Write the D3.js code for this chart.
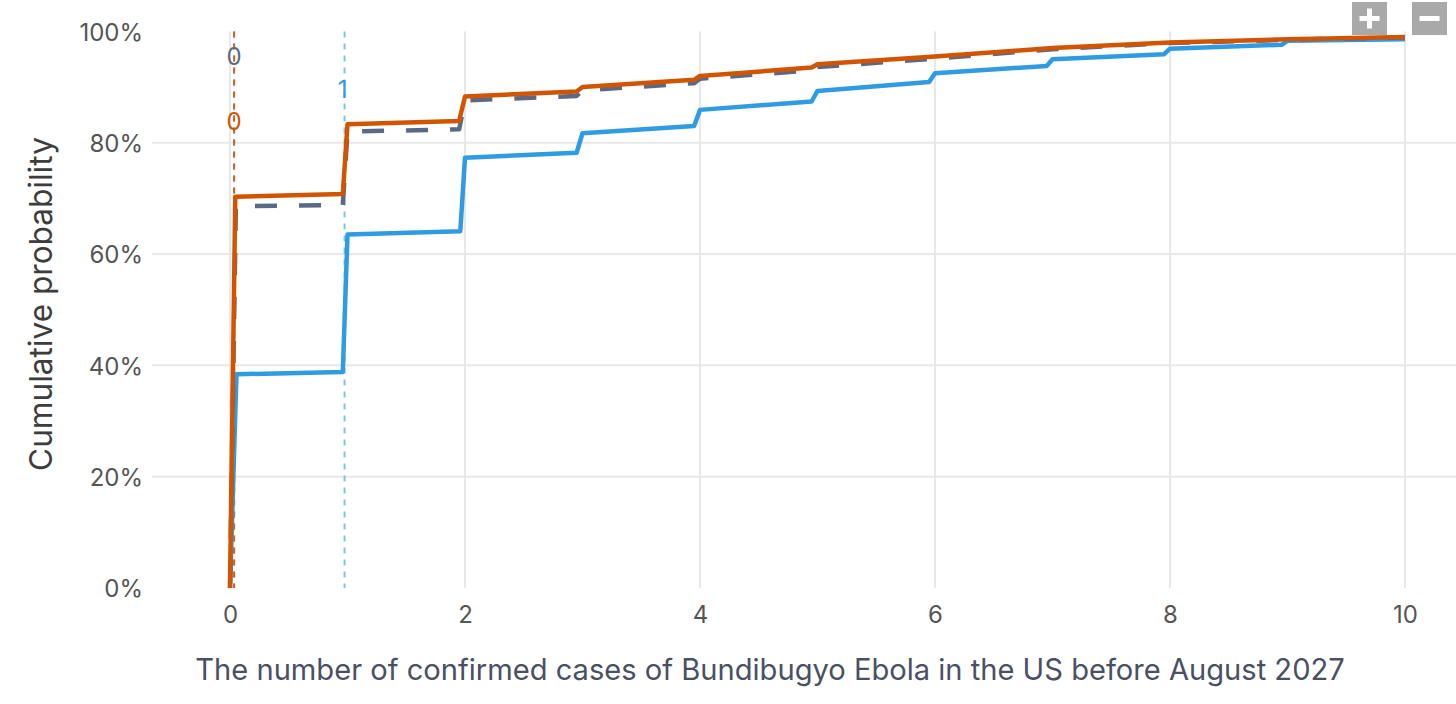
<!DOCTYPE html>
<html><head><meta charset="utf-8">
<script src="https://cdn.jsdelivr.net/npm/d3@7"></script>
<style>
body{margin:0;background:#fff;}
svg{display:block;font-family:Inter,"Open Sans",sans-serif;}
</style>
</head><body>
<svg id="chart" width="1456" height="704"></svg>
<script>
// ---- data ----
const xTicks = [0, 2, 4, 6, 8, 10];
const yTicks = [0, 20, 40, 60, 80, 100];
const yGrid = [20, 40, 60, 80];

// blue series (cumulative %, step-like CDF)
const blueX = [0.0, 0.055, 0.96, 1.0, 1.96, 2.0, 2.95, 3.0, 3.95, 4.0, 4.95, 5.0, 5.95, 6.0, 6.95, 7.0, 7.95, 8.0, 8.95, 9.0, 10.0];
const blueP = [0, 38.4, 38.8, 63.5, 64.1, 77.3, 78.2, 81.7, 83.0, 85.9, 87.4, 89.3, 90.9, 92.5, 93.8, 95.0, 95.9, 96.9, 97.6, 98.3, 98.6];

// grey dashed series
const greyX = [0.0, 0.05, 0.96, 1.0, 1.95, 2.0, 2.95, 3.0, 3.95, 4.0, 4.95, 5.0, 6.0, 7.0, 8.0, 9.0, 10.0];
const greyP = [0, 68.6, 68.8, 82.0, 82.4, 87.6, 88.4, 89.4, 90.7, 91.5, 93.0, 93.6, 95.1, 96.8, 97.9, 98.5, 98.9];

// orange series
const orangeX = [0.0, 0.045, 0.96, 1.0, 1.95, 2.0, 2.95, 3.0, 3.95, 4.0, 4.95, 5.0, 6.0, 7.0, 8.0, 9.0, 10.0];
const orangeP = [0, 70.3, 70.8, 83.3, 83.9, 88.3, 89.2, 90.0, 91.3, 92.0, 93.5, 94.1, 95.5, 97.0, 98.0, 98.6, 99.0];

// medians (vertical markers) and their labels
const medianNames = ["grey", "orange", "blue"];
const medianX = [0.035, 0.035, 0.975];
const medianLabels = ["0", "0", "1"];

const colors = {blue: "#2f9be3", grey: "#5a6a84", orange: "#d35400"};
const xTitle = "The number of confirmed cases of Bundibugyo Ebola in the US before August 2027";
const yTitle = "Cumulative probability";

// ---- layout ----
const W = 1456, H = 704;
const svg = d3.select("#chart");
const x = d3.scaleLinear().domain([0, 10]).range([230, 1405]);
const y = d3.scaleLinear().domain([0, 100]).range([588, 31.4]);
const gridLeft = 152, gridRight = W;

// grid
const g = svg.append("g");
g.selectAll("line.hg").data(yGrid).join("line")
  .attr("x1", gridLeft).attr("x2", gridRight)
  .attr("y1", d => y(d)).attr("y2", d => y(d))
  .attr("stroke", "#e8e8e8").attr("stroke-width", 2);
g.selectAll("line.vg").data(xTicks).join("line")
  .attr("x1", d => x(d)).attr("x2", d => x(d))
  .attr("y1", y(100)).attr("y2", y(0))
  .attr("stroke", "#e8e8e8").attr("stroke-width", 2);

// axes (labels only)
const xAxis = d3.axisBottom(x).tickValues(xTicks).tickSize(0).tickPadding(0).tickFormat(d3.format("d"));
const xa = svg.append("g").attr("transform", `translate(0,${y(0)})`).call(xAxis);
xa.select(".domain").remove();
xa.selectAll("text").attr("font-size", 24).attr("fill", "#555")
  .attr("font-family", "Inter,'Open Sans',sans-serif")
  .attr("dy", null).attr("y", 35);

const yAxis = d3.axisLeft(y).tickValues(yTicks).tickSize(0).tickPadding(0).tickFormat(d => d + "%");
const ya = svg.append("g").attr("transform", `translate(143,0)`).call(yAxis);
ya.select(".domain").remove();
ya.selectAll("text").attr("font-size", 24).attr("fill", "#555")
  .attr("font-family", "Inter,'Open Sans',sans-serif")
  .attr("x", 0).attr("dy", "0.36em");

// titles, fitted to measured widths
const xt = svg.append("text").attr("x", 770).attr("y", 680).attr("text-anchor", "middle")
  .attr("fill", "#4a5064").attr("font-size", 28).text(xTitle);
let wx = xt.node().getComputedTextLength();
xt.attr("font-size", 28 * 1150 / wx);

const yt = svg.append("text").attr("transform", "translate(52,304) rotate(-90)")
  .attr("text-anchor", "middle").attr("fill", "#3d3d3d").attr("font-size", 30).text(yTitle);
let wy = yt.node().getComputedTextLength();
yt.attr("font-size", 30 * 334 / wy);

// median lines
const medG = svg.append("g");
medianNames.forEach((n, i) => {
  medG.append("line")
    .attr("x1", x(medianX[i])).attr("x2", x(medianX[i]))
    .attr("y1", y(100)).attr("y2", y(0))
    .attr("stroke", colors[n]).attr("stroke-opacity", n === "blue" ? 0.6 : 0.7)
    .attr("stroke-width", 2).attr("stroke-dasharray", "6,6");
});

// series lines
const line = d3.line().x(d => x(d[0])).y(d => y(d[1])).curve(d3.curveLinear);
const series = [
  {name: "blue", xs: blueX, ps: blueP, dash: null},
  {name: "grey", xs: greyX, ps: greyP, dash: "22,22"},
  {name: "orange", xs: orangeX, ps: orangeP, dash: null}
];
series.forEach(s => {
  svg.append("path")
    .datum(s.xs.map((v, i) => [v, s.ps[i]]))
    .attr("d", line)
    .attr("fill", "none")
    .attr("stroke", colors[s.name])
    .attr("stroke-width", 4.5)
    .attr("stroke-linejoin", "round")
    .attr("stroke-dasharray", s.dash)
    .attr("stroke-dashoffset", s.dash ? -5 : null);
});

// median labels
const labelY = [56, 121, 89];
medianNames.forEach((n, i) => {
  svg.append("text")
    .attr("x", x(medianX[i]) - (n === "blue" ? 2 : 0)).attr("y", labelY[i])
    .attr("dy", "0.36em").attr("text-anchor", "middle")
    .attr("font-size", 24).attr("fill", colors[n])
    .text(medianLabels[i]);
});

// zoom buttons
const btns = [{x0: 1352, sym: "+"}, {x0: 1412, sym: "-"}];
btns.forEach(b => {
  svg.append("rect").attr("x", b.x0).attr("y", 2).attr("width", 35).attr("height", 33)
    .attr("fill", "#a9a9a9");
  const cx = b.x0 + 17.5, cy = 18.5;
  svg.append("rect").attr("x", cx - 10).attr("y", cy - 2.5).attr("width", 20).attr("height", 5).attr("fill", "#fff");
  if (b.sym === "+") {
    svg.append("rect").attr("x", cx - 2.5).attr("y", cy - 10).attr("width", 5).attr("height", 20).attr("fill", "#fff");
  }
});
</script>
</body></html>
